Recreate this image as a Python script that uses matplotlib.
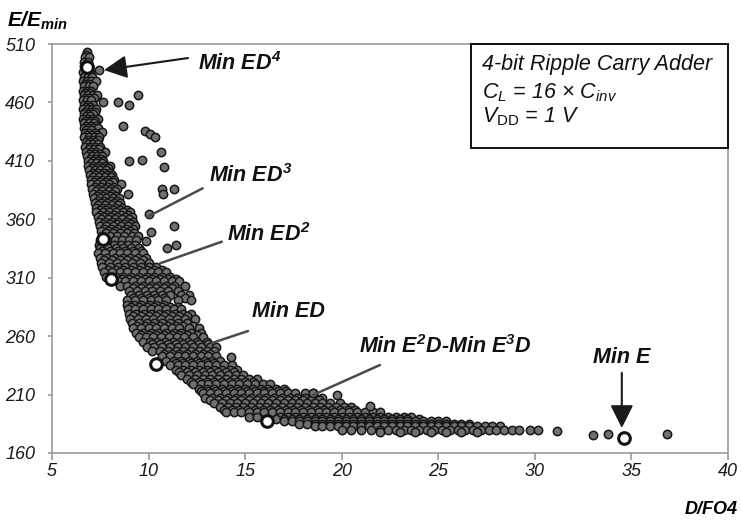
import matplotlib
matplotlib.use("Agg")
import matplotlib.pyplot as plt
from matplotlib.patches import Rectangle

plt.rcParams['font.family'] = ['Liberation Sans', 'DejaVu Sans']
plt.rcParams['mathtext.fontset'] = 'custom'
plt.rcParams['mathtext.it'] = 'Liberation Sans:italic'
plt.rcParams['mathtext.bf'] = 'Liberation Sans:italic:bold'
plt.rcParams['mathtext.rm'] = 'Liberation Sans'
plt.rcParams['mathtext.sf'] = 'Liberation Sans'

# design points, row by row (E/Emin level, D/FO4 values)
column_rows = [
    (503, [6.83]),
    (501, [6.78]),
    (499, [6.72, 6.92]),
    (495, [6.68, 6.88]),
    (491, [6.66, 6.93]),
    (486, [6.62, 6.98]),
    (484, [6.75, 6.95]),
    (482, [6.64, 6.86, 7.05]),
    (478, [6.60, 6.80, 7.02, 7.28]),
    (476, [6.70, 6.92]),
    (474, [6.66, 6.90, 7.12]),
    (470, [6.60, 6.82, 7.04]),
    (468, [6.72, 6.96]),
    (466, [6.64, 6.86, 7.10, 7.34]),
    (464, [6.70, 6.92, 7.18]),
    (462, [6.60, 6.80, 7.02]),
    (460, [7.62]),
    (458, [6.66, 6.88, 7.14]),
    (456, [6.74, 6.96]),
    (454, [6.62, 6.84, 7.06, 7.30]),
    (452, [6.70, 7.00, 7.24]),
    (450, [6.66, 6.90, 7.12]),
    (448, [6.74, 6.98]),
    (446, [6.62, 6.84, 7.08, 7.36]),
    (444, [6.72, 7.02, 7.24]),
    (442, [6.68, 6.92, 7.16]),
    (440, [6.78, 7.00, 7.28]),
    (438, [6.64, 6.88, 7.12, 7.40]),
    (436, [6.76, 7.04]),
    (435, [7.58]),
    (434, [6.70, 6.94, 7.20]),
    (432, [6.80, 7.06, 7.32]),
    (430, [6.68, 6.92, 7.16, 7.42]),
    (428, [6.84, 7.10, 7.36]),
    (426, [6.74, 6.98, 7.24]),
    (424, [6.86, 7.12, 7.40]),
    (422, [6.72, 6.96, 7.22, 7.50]),
    (420, [6.90, 7.18, 7.44]),
    (418, [6.78, 7.04, 7.30, 7.72]),
    (416, [6.94, 7.20, 7.48]),
    (414, [6.80, 7.06, 7.34, 7.58]),
    (412, [6.98, 7.26, 7.52]),
    (410, [6.84, 7.10, 7.38, 7.64]),
    (408, [7.02, 7.30, 7.58]),
    (406, [6.88, 7.14, 7.42, 7.72, 8.02]),
    (404, [7.06, 7.34, 7.62, 7.92]),
    (402, [6.92, 7.20, 7.48, 7.78]),
    (400, [7.10, 7.40, 7.68, 7.98]),
    (398, [6.96, 7.24, 7.52, 7.84, 8.12]),
    (396, [7.14, 7.44, 7.76, 8.06]),
    (394, [7.00, 7.30, 7.60, 7.92, 8.22]),
    (392, [7.18, 7.50, 7.82, 8.14]),
    (390, [7.04, 7.34, 7.64, 7.96, 8.57]),
    (388, [7.22, 7.56, 7.88, 8.20]),
    (386, [7.08, 7.40, 7.72, 8.04, 8.34]),
    (384, [7.28, 7.60, 7.94, 8.26]),
    (382, [7.12, 7.44, 7.76, 8.08, 8.95]),
    (380, [7.32, 7.66, 8.00, 8.32]),
    (378, [7.18, 7.50, 7.82, 8.14, 8.46]),
    (376, [7.36, 7.70, 8.04, 8.38]),
    (374, [7.22, 7.54, 7.86, 8.20, 8.54]),
    (372, [7.40, 7.74, 8.10, 8.44]),
    (370, [7.26, 7.58, 7.92, 8.26, 8.62]),
    (368, [7.46, 7.80, 8.16, 8.52, 8.86]),
    (366, [7.30, 7.62, 7.96, 8.32, 8.70, 9.04]),
    (364, [7.50, 7.86, 8.22, 8.58, 8.94]),
    (362, [7.36, 7.68, 8.02, 8.38, 8.76, 9.12]),
    (360, [7.56, 7.92, 8.28, 8.64, 9.00]),
    (358, [7.42, 7.74, 8.08, 8.44, 8.82, 9.20]),
    (356, [7.62, 7.98, 8.36, 8.72, 9.08]),
    (354, [7.48, 7.82, 8.18, 8.56, 8.94, 9.30]),
    (352, [7.70, 8.06, 8.44, 8.82, 9.20]),
    (350, [7.54, 7.90, 8.28, 8.66, 9.04]),
    (348, [7.78, 8.16, 8.52, 8.90, 9.26]),
    (346, [7.60, 7.98, 8.36, 8.74, 9.12, 9.46]),
]

knee_rows = [
    (342, [7.50, 7.85, 8.25, 8.60, 9.00, 9.35]),
    (338, [7.45, 7.80, 8.20, 8.55, 8.95, 9.30]),
    (335, [7.50, 7.90, 8.30, 8.70, 9.10, 9.50]),
    (333, [7.60, 8.00, 8.40, 8.80, 9.20, 9.60]),
    (331, [7.40, 7.75, 8.15, 8.50, 8.90, 9.30, 9.70]),
    (327, [7.50, 7.85, 8.25, 8.65, 9.05, 9.45, 9.85]),
    (325, [7.70, 8.10, 8.50, 8.90, 9.30, 9.70]),
    (323, [7.55, 7.95, 8.35, 8.75, 9.15, 9.55, 10.00]),
    (319, [7.60, 8.00, 8.40, 8.80, 9.20, 9.60, 10.00, 10.40]),
    (317, [7.90, 8.30, 8.70, 9.10, 9.50, 9.90, 10.30, 10.70]),
    (315, [7.70, 8.10, 8.50, 8.90, 9.30, 9.70, 10.10, 10.50, 10.90]),
    (311, [7.80, 8.30, 8.70, 9.10, 9.50, 9.90, 10.30, 10.70, 11.10]),
    (309, [8.60, 9.00, 9.40, 9.80, 10.20, 10.60, 11.00, 11.40]),
    (307, [8.40, 8.80, 9.20, 9.60, 10.00, 10.40, 10.80, 11.20, 11.60]),
    (303, [8.50, 8.90, 9.30, 9.70, 10.10, 10.50, 10.90, 11.30, 11.90]),
    (301, [9.20, 9.60, 10.00, 10.40, 10.80, 11.20]),
    (299, [9.00, 9.40, 9.80, 10.20, 10.60, 11.00, 11.50]),
    (295, [9.10, 9.50, 9.90, 10.30, 10.70, 11.10, 11.70, 12.10]),
    (293, [9.20, 9.60, 10.00, 10.40, 10.80, 11.90]),
    (291, [8.90, 9.30, 9.70, 10.10, 10.50, 10.90, 11.50, 12.20]),
    (287, [8.90, 9.25, 9.60, 10.00, 10.40, 10.80]),
    (285, [9.10, 9.50, 9.90, 10.30, 10.70, 11.10, 11.50]),
    (283, [8.95, 9.30, 9.70, 10.10, 10.50, 10.90, 11.30, 11.70]),
    (279, [9.00, 9.35, 9.75, 10.15, 10.55, 10.95, 11.35, 11.80, 12.20]),
    (277, [9.20, 9.60, 10.00, 10.40, 10.80, 11.20, 11.60, 12.00]),
    (275, [9.05, 9.45, 9.85, 10.25, 10.65, 11.05, 11.45, 11.90, 12.40]),
    (271, [9.15, 9.50, 9.90, 10.30, 10.70, 11.10, 11.50, 12.00]),
    (269, [9.40, 9.80, 10.20, 10.60, 11.00, 11.40, 11.80, 12.30]),
    (267, [9.20, 9.60, 10.00, 10.40, 10.80, 11.20, 11.60, 12.10, 12.60]),
    (263, [9.35, 9.70, 10.10, 10.50, 10.90, 11.30, 11.70, 12.20, 12.70]),
    (261, [9.60, 10.00, 10.40, 10.80, 11.20, 11.60, 12.00, 12.50]),
    (259, [9.50, 9.85, 10.25, 10.65, 11.05, 11.45, 11.85, 12.30, 12.80]),
    (255, [9.70, 10.05, 10.45, 10.85, 11.25, 11.65, 12.05, 12.50, 13.00]),
    (253, [10.20, 10.60, 11.00, 11.40, 11.80, 12.20, 12.60, 13.10]),
    (251, [9.90, 10.30, 10.70, 11.10, 11.50, 11.90, 12.30, 12.70, 13.20, 13.50]),
    (247, [10.20, 10.60, 11.00, 11.40, 11.80, 12.20, 12.60, 13.00, 13.40]),
    (245, [10.80, 11.20, 11.60, 12.00, 12.40, 12.80, 13.20]),
]

tail_rows = [
    (243, [10.70, 11.10, 11.50, 11.90, 12.30, 12.70, 13.10, 13.50]),
    (239, [10.90, 11.30, 11.70, 12.10, 12.50, 12.90, 13.30, 13.70]),
    (237, [11.40, 11.80, 12.20, 12.60, 13.00, 13.40]),
    (235, [11.10, 11.50, 11.90, 12.30, 12.70, 13.10, 13.50, 13.90, 14.30]),
    (231, [11.40, 11.80, 12.20, 12.60, 13.00, 13.40, 13.80, 14.20, 14.60]),
    (229, [11.60, 12.00, 12.40, 12.80, 13.20, 13.60, 14.00, 14.40]),
    (227, [11.70, 12.10, 12.50, 12.90, 13.30, 13.70, 14.10, 14.50, 14.90]),
    (223, [12.00, 12.40, 12.80, 13.20, 13.60, 14.00, 14.40, 14.80, 15.20, 15.60]),
    (221, [12.20, 12.60, 13.00, 13.40, 13.80, 14.20, 14.60, 15.00, 15.40]),
    (219, [12.30, 12.70, 13.10, 13.50, 13.90, 14.30, 14.70, 15.10, 15.50, 15.90, 16.30]),
    (215, [12.60, 13.00, 13.40, 13.80, 14.20, 14.60, 15.00, 15.40, 15.80, 16.20, 16.60, 17.00]),
    (213, [12.70, 13.10, 13.50, 13.90, 14.30, 14.70, 15.10, 15.50, 15.90, 16.30, 16.70, 17.10]),
    (211, [12.80, 13.20, 13.60, 14.00, 14.40, 14.80, 15.20, 15.60, 16.00, 16.40, 16.80,
           17.20, 17.60, 18.10, 18.50]),
    (207, [12.90, 13.30, 13.70, 14.10, 14.50, 14.90, 15.30, 15.70, 16.10, 16.50, 16.90,
           17.30, 17.70, 18.10, 18.60, 19.00]),
    (205, [13.20, 13.60, 14.00, 14.40, 14.80, 15.20, 15.60, 16.00, 16.40, 16.80, 17.20,
           17.60, 18.00, 18.40, 18.80]),
    (203, [13.40, 13.80, 14.20, 14.60, 15.00, 15.40, 15.80, 16.20, 16.60, 17.00, 17.40,
           17.80, 18.20, 18.60, 19.00, 19.40, 19.90]),
    (199, [13.70, 14.10, 14.50, 14.90, 15.30, 15.70, 16.10, 16.50, 16.90, 17.30, 17.70,
           18.10, 18.50, 18.90, 19.30, 19.70, 20.10, 20.50]),
    (197, [13.90, 14.30, 14.70, 15.10, 15.50, 15.90, 16.30, 16.70, 17.10, 17.50, 17.90,
           18.30, 18.70, 19.10, 19.50, 19.90, 20.30, 20.70]),
    (195, [14.00, 14.40, 14.80, 15.20, 15.60, 16.00, 16.40, 16.80, 17.20, 17.60, 18.00,
           18.40, 18.80, 19.20, 19.60, 20.00, 20.40, 20.80, 21.20, 21.60, 22.00]),
    (191, [15.20, 15.60, 16.80, 17.20, 17.60, 18.00, 18.40, 18.80, 19.20, 19.60, 20.00,
           20.40, 20.80, 21.20, 21.60, 22.00, 22.40, 22.80, 23.20, 23.60]),
    (189, [16.60, 17.00, 17.40, 17.80, 18.20, 18.60, 19.00, 19.40, 19.80, 20.20, 20.60,
           21.00, 21.40, 21.80, 22.20, 22.60, 23.00, 23.40, 24.00]),
    (187, [17.00, 17.40, 17.80, 18.20, 18.60, 19.00, 19.40, 19.80, 20.20, 20.60, 21.00,
           21.40, 21.80, 22.20, 22.60, 23.00, 23.40, 23.80, 24.20, 24.60, 25.00, 25.40]),
    (185, [17.80, 18.20, 18.60, 19.00, 19.40, 19.80, 20.20, 20.60, 21.00, 21.40, 21.80,
           22.20, 22.60, 23.00, 23.40, 23.80, 24.20, 24.60, 25.00, 25.40, 25.80, 26.20,
           26.60]),
    (183, [18.60, 19.00, 19.40, 19.80, 20.20, 20.60, 21.00, 21.40, 21.80, 22.20, 22.60,
           23.00, 23.40, 23.80, 24.20, 24.60, 25.00, 25.40, 25.80, 26.20, 26.60, 27.00,
           27.40, 27.80, 28.20]),
    (180, [20.00, 20.50, 21.00, 21.50, 22.00, 22.40, 22.80, 23.20, 23.60, 24.00, 24.40,
           24.80, 25.20, 25.60, 26.00, 26.40, 26.80, 27.20, 27.60, 28.00, 28.40, 28.80,
           29.20]),
    (178, [22.00, 23.00, 23.80, 24.60, 25.40, 26.20, 27.00]),
]

# scattered single points
stray_x = [7.43, 8.40, 8.99, 9.44, 8.69, 9.83, 10.07, 10.33, 10.64, 8.97, 9.64, 10.82,
           10.68, 10.77, 11.32, 10.02, 11.33, 10.13, 9.87, 11.42, 10.94, 14.27, 21.47,
           19.74, 18.50, 29.75, 30.18, 31.17, 33.00, 33.78, 36.83]
stray_y = [487.6, 460.0, 457.4, 466.0, 439.7, 435.7, 433.0, 430.6, 417.7, 410.0, 411.0,
           404.4, 385.6, 381.3, 385.6, 364.4, 354.0, 349.3, 341.4, 338.0, 335.0, 242.4,
           200.2, 209.6, 211.0, 179.7, 179.7, 178.8, 175.4, 176.0, 176.5]

# optimum points (white markers)
opt_x = [6.83, 7.66, 8.06, 10.39, 16.12, 34.59]
opt_y = [490.5, 343.3, 308.8, 236.0, 187.4, 172.6]

pts_x, pts_y = [], []
for rows in (column_rows, knee_rows, tail_rows):
    for yv, xs in rows:
        pts_x += xs
        pts_y += [yv] * len(xs)
pts_x += stray_x
pts_y += stray_y

fig = plt.figure(figsize=(7.41, 5.22), dpi=100)
ax = fig.add_axes([0.0702, 0.1322, 0.9123, 0.7835])

ax.scatter(pts_x, pts_y, s=36, facecolor='#707070', edgecolor='#161616', linewidth=1.1, zorder=2)
ax.scatter(opt_x, opt_y, s=70, facecolor='white', edgecolor='#111111', linewidth=2.2, zorder=3)

ax.set_xlim(5, 40)
ax.set_ylim(160, 510)
ax.set_xticks(range(5, 41, 5))
ax.set_yticks(range(160, 511, 50))
for s in ax.spines.values():
    s.set_color('#9a9a9a')
    s.set_linewidth(1.2)
ax.tick_params(axis='both', direction='out', length=5, width=1.2, color='#9a9a9a',
               labelsize=13, labelcolor='#1a1a1a')
ax.tick_params(axis='y', length=3, pad=9)
ax.tick_params(axis='x', pad=2)
for lab in ax.get_xticklabels() + ax.get_yticklabels():
    lab.set_fontstyle('italic')

fig.text(7 / 741, 1 - 27 / 522, r'E/E$_{\mathbf{min}}$', fontsize=15, fontweight='bold',
         fontstyle='italic', ha='left', va='baseline')
fig.text(738 / 741, 1 - 514 / 522, 'D/FO4', fontsize=13, fontweight='bold',
         fontstyle='italic', ha='right', va='baseline')

# legend-like box
ax.add_patch(Rectangle((0.62, 0.7457), 0.38, 0.2543, transform=ax.transAxes, fill=False,
                       edgecolor='#111111', linewidth=1.4, zorder=5, clip_on=False))
box_kw = dict(transform=ax.transAxes, fontsize=15.5, fontstyle='italic', ha='left',
              va='baseline', color='#111111')
ax.text(0.6357, 0.9364, '4-bit Ripple Carry Adder', **box_kw)
ax.text(0.6357, 0.868, r'C$_L$ = 16 × C$_{inv}$', **box_kw)
ax.text(0.6357, 0.809, r'V$_{\mathrm{DD}}$ = 1 V', **box_kw)

lab_kw = dict(fontsize=15.5, fontweight='bold', fontstyle='italic', ha='left',
              va='baseline', color='#111111')
ax.text(12.56, 487.7, r'Min ED$^{\mathbf{4}}$', **lab_kw)
ax.text(13.14, 391.6, r'Min ED$^{\mathbf{3}}$', **lab_kw)
ax.text(14.05, 341.7, r'Min ED$^{\mathbf{2}}$', **lab_kw)
ax.text(15.34, 276.6, 'Min ED', **lab_kw)
ax.text(20.90, 245.6, r'Min E$^{\mathbf{2}}$D-Min E$^{\mathbf{3}}$D', **lab_kw)
ax.text(33.00, 237.0, 'Min E', **lab_kw)

head = dict(arrowstyle='-|>,head_length=0.7,head_width=0.35', color='#1a1a1a', lw=1.5,
            mutation_scale=20, shrinkA=0, shrinkB=0)
ax.annotate('', xy=(7.69, 487.7), xytext=(12.04, 498.0), arrowprops=head, zorder=4)
ax.annotate('', xy=(34.50, 181.4), xytext=(34.50, 228.5), arrowprops=head, zorder=4)

line = dict(arrowstyle='-', color='#4a4a4a', lw=1.8, shrinkA=0, shrinkB=0)
ax.annotate('', xy=(9.92, 362.0), xytext=(12.80, 386.5), arrowprops=line, zorder=4)
ax.annotate('', xy=(10.59, 322.3), xytext=(13.79, 340.8), arrowprops=line, zorder=4)
ax.annotate('', xy=(13.28, 254.1), xytext=(15.15, 264.4), arrowprops=line, zorder=4)
ax.annotate('', xy=(18.51, 209.6), xytext=(21.98, 235.3), arrowprops=line, zorder=4)

fig.savefig('out.png', dpi=100)
